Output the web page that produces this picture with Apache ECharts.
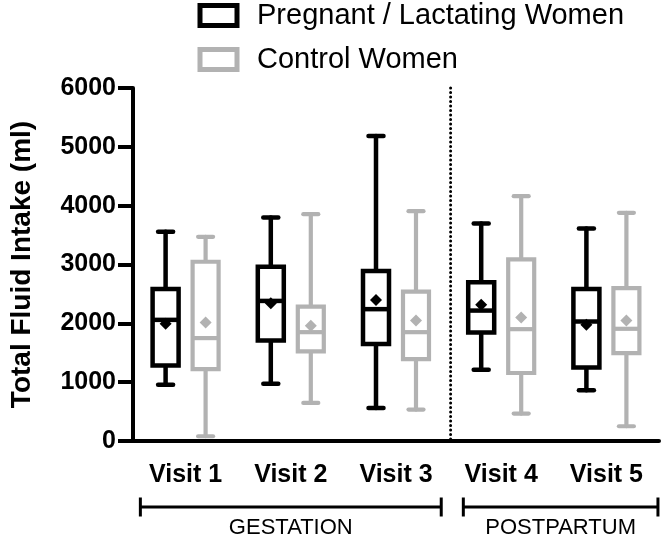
<!DOCTYPE html>
<html>
<head>
<meta charset="utf-8">
<script src="https://cdn.jsdelivr.net/npm/echarts@6/dist/echarts.min.js"></script>
<style>
html,body{margin:0;padding:0;background:#fff;}
#chart{width:661px;height:542px;}
</style>
</head>
<body>
<div id="chart"></div>
<script>
// ---- data ----
const categories = ['Visit 1', 'Visit 2', 'Visit 3', 'Visit 4', 'Visit 5'];
const yTicks = [0, 1000, 2000, 3000, 4000, 5000, 6000];

const pregMin    = [958, 975, 563, 1212, 861];
const pregQ1     = [1285, 1709, 1647, 1844, 1251];
const pregMedian = [2059, 2381, 2241, 2217, 2031];
const pregQ3     = [2585, 2963, 2890, 2698, 2585];
const pregMax    = [3556, 3800, 5183, 3698, 3613];
const pregMean   = [1991, 2340, 2398, 2314, 1975];

const ctrlMin    = [81, 647, 534, 466, 251];
const ctrlQ1     = [1223, 1522, 1393, 1156, 1495];
const ctrlMedian = [1749, 1850, 1850, 1901, 1907];
const ctrlQ3     = [3047, 2285, 2539, 3088, 2597];
const ctrlMax    = [3471, 3856, 3907, 4161, 3878];
const ctrlMean   = [2014, 1958, 2048, 2098, 2048];

const periodNames = ['GESTATION', 'POSTPARTUM'];
const periodFirst = [0, 3];
const periodLast  = [2, 4];

const seriesNames = ['Pregnant / Lactating Women', 'Control Women'];

// ---- build ----
const FONT = 'Liberation Sans, Arial, Helvetica, sans-serif';
const BLACK = '#000000';
const GREY = '#b2b2b2';

function rows(mn, q1, md, q3, mx, mean) {
  return categories.map((c, i) => [i, mn[i], q1[i], md[i], q3[i], mx[i], mean[i]]);
}

function boxRenderer(offset, color, lw) {
  return function (params, api) {
    const idx = api.value(0);
    const cx = api.coord([idx, 0])[0] + offset;
    const y = k => api.coord([idx, api.value(k)])[1];
    const yMin = y(1), yQ1 = y(2), yMed = y(3), yQ3 = y(4), yMax = y(5), yMean = y(6);
    const hw = 13, cap = 7.5, d = 6;
    const st = { stroke: color, lineWidth: lw, fill: null, lineCap: 'round' };
    return {
      type: 'group',
      children: [
        { type: 'line', shape: { x1: cx, y1: yMax, x2: cx, y2: yQ3 }, style: st },
        { type: 'line', shape: { x1: cx, y1: yQ1, x2: cx, y2: yMin }, style: st },
        { type: 'line', shape: { x1: cx - cap, y1: yMax, x2: cx + cap, y2: yMax }, style: st },
        { type: 'line', shape: { x1: cx - cap, y1: yMin, x2: cx + cap, y2: yMin }, style: st },
        { type: 'rect', shape: { x: cx - hw, y: yQ3, width: 2 * hw, height: yQ1 - yQ3 },
          style: { stroke: color, lineWidth: lw, fill: '#fff', lineJoin: 'miter' } },
        { type: 'line', shape: { x1: cx - hw, y1: yMed, x2: cx + hw, y2: yMed },
          style: { stroke: color, lineWidth: lw, lineCap: 'butt' } },
        { type: 'polygon', shape: { points: [[cx, yMean - d], [cx + d, yMean], [cx, yMean + d], [cx - d, yMean]] },
          style: { fill: color, stroke: null } }
      ]
    };
  };
}

const periodData = periodNames.map((n, i) => [periodFirst[i], 0, periodLast[i], 6000]);

function periodRenderer(params, api) {
  const i = params.dataIndex;
  const band = api.size([1, 0])[0];
  const y0 = api.coord([0, 0])[1];
  const yTop = api.coord([0, api.value(3)])[1];
  const xFirst = api.coord([api.value(0), 0])[0];
  const xLast = api.coord([api.value(2), 0])[0];
  const isLast = i === periodNames.length - 1;
  const x1 = xFirst - (i === 0 ? 0.43 : 0.36) * band;
  const x2 = xLast + (isLast ? 0.49 : 0.43) * band;
  const ly = y0 + 66;
  const st = { stroke: BLACK, lineWidth: 3 };
  const children = [
    { type: 'line', shape: { x1: x1, y1: ly, x2: x2, y2: ly }, style: st },
    { type: 'line', shape: { x1: x1, y1: ly - 9.5, x2: x1, y2: ly + 9.5 }, style: st },
    { type: 'line', shape: { x1: x2, y1: ly - 9.5, x2: x2, y2: ly + 9.5 }, style: st },
    { type: 'text', style: { text: periodNames[i], x: (x1 + x2) / 2, y: y0 + 87,
        align: 'center', verticalAlign: 'middle', textAlign: 'center', textVerticalAlign: 'middle',
        font: '22px ' + FONT, fill: BLACK } }
  ];
  if (!isLast) {
    const xd = xLast + 0.5 * band + 2;
    children.push({ type: 'line', shape: { x1: xd, y1: yTop, x2: xd, y2: y0 },
      style: { stroke: BLACK, lineWidth: 3, lineDash: [0.1, 4.4], lineCap: 'round' } });
  }
  return { type: 'group', children: children };
}

const chart = echarts.init(document.getElementById('chart'), null, { renderer: 'canvas' });
chart.setOption({
  animation: false,
  backgroundColor: '#fff',
  grid: { left: 125, right: 2, top: 88, bottom: 101, containLabel: false },
  legend: {
    orient: 'vertical', left: 197.5, top: 1, padding: 0, itemWidth: 37, itemHeight: 20, itemGap: 15,
    textStyle: { fontFamily: FONT, fontSize: 29, color: BLACK, padding: [0, 0, 0, 15] },
    data: [
      { name: seriesNames[0], icon: 'rect', itemStyle: { color: '#fff', borderColor: BLACK, borderWidth: 5 } },
      { name: seriesNames[1], icon: 'rect', itemStyle: { color: '#fff', borderColor: GREY, borderWidth: 5 } }
    ]
  },
  xAxis: {
    type: 'category', data: categories, boundaryGap: true,
    axisLine: { lineStyle: { color: BLACK, width: 4 } },
    axisTick: { alignWithLabel: true, length: 13, lineStyle: { color: BLACK, width: 4 } },
    axisLabel: { margin: 22, fontFamily: FONT, fontSize: 25, fontWeight: 'bold', color: BLACK },
    splitLine: { show: false }
  },
  yAxis: {
    type: 'value', min: yTicks[0], max: yTicks[yTicks.length - 1], interval: 1000,
    name: 'Total Fluid Intake (ml)', nameLocation: 'middle', nameGap: 97, nameRotate: 90,
    nameTextStyle: { fontFamily: FONT, fontSize: 28, fontWeight: 'bold', color: BLACK },
    axisLine: { show: true, lineStyle: { color: BLACK, width: 4 } },
    axisTick: { show: true, length: 15, lineStyle: { color: BLACK, width: 4 } },
    axisLabel: { margin: 17, fontFamily: FONT, fontSize: 25, fontWeight: 'bold', color: BLACK,
      formatter: v => String(v) },
    splitLine: { show: false }
  },
  series: [
    {
      name: seriesNames[0], type: 'custom', coordinateSystem: 'cartesian2d',
      itemStyle: { color: BLACK },
      encode: { x: 0, y: [1, 2, 3, 4, 5, 6] },
      data: rows(pregMin, pregQ1, pregMedian, pregQ3, pregMax, pregMean),
      renderItem: boxRenderer(-20, BLACK, 4.5), z: 3
    },
    {
      name: seriesNames[1], type: 'custom', coordinateSystem: 'cartesian2d',
      itemStyle: { color: GREY },
      encode: { x: 0, y: [1, 2, 3, 4, 5, 6] },
      data: rows(ctrlMin, ctrlQ1, ctrlMedian, ctrlQ3, ctrlMax, ctrlMean),
      renderItem: boxRenderer(20, GREY, 4.2), z: 3
    },
    {
      name: 'periods', type: 'custom', coordinateSystem: 'cartesian2d', clip: false,
      encode: { x: [0, 2], y: [1, 3] },
      data: periodData,
      renderItem: periodRenderer, z: 2, silent: true
    }
  ]
});
</script>
</body>
</html>
